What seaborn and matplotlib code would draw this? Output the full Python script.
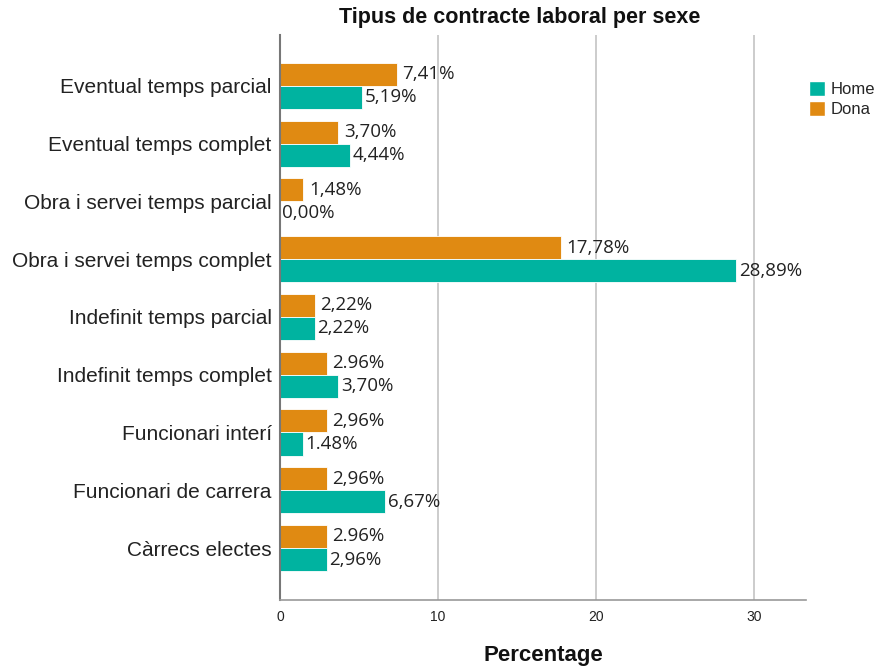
import matplotlib
matplotlib.use("Agg")
import matplotlib.pyplot as plt
import seaborn as sns
import pandas as pd
from matplotlib.patches import Patch

categories = ["Eventual temps parcial", "Eventual temps complet", "Obra i servei temps parcial",
              "Obra i servei temps complet", "Indefinit temps parcial", "Indefinit temps complet",
              "Funcionari interí", "Funcionari de carrera", "Càrrecs electes"]
home = [5.19, 4.44, 0.00, 28.89, 2.22, 3.70, 1.48, 6.67, 2.96]
dona = [7.41, 3.70, 1.48, 17.78, 2.22, 2.96, 2.96, 2.96, 2.96]
home_labels = ["5,19%", "4,44%", "0,00%", "28,89%", "2,22%", "3,70%", "1.48%", "6,67%", "2,96%"]
dona_labels = ["7,41%", "3,70%", "1,48%", "17,78%", "2,22%", "2.96%", "2,96%", "2,96%", "2.96%"]
xticks = [0, 10, 20, 30]

c_home = "#00B3A0"
c_dona = "#E08A12"

df = pd.DataFrame({
    "cat": categories * 2,
    "val": dona + home,
    "sexe": ["Dona"] * len(categories) + ["Home"] * len(categories),
})

sns.set_style("white")
plt.rcParams["font.family"] = ["Liberation Sans", "DejaVu Sans"]

fig = plt.figure(figsize=(8.79, 6.66), dpi=100)
ax = fig.add_axes([280/879, 1-600/666, (806-280)/879, (600-35)/666])

sns.barplot(data=df, y="cat", x="val", hue="sexe", hue_order=["Dona", "Home"],
            order=categories, palette={"Dona": c_dona, "Home": c_home},
            orient="h", width=0.8, ax=ax, legend=False, saturation=1,
            edgecolor="white", linewidth=0.6)

ax.set_xlim(0, 33.3)
ax.set_ylim(8.9, -0.88)
ax.set_xticks(xticks)
ax.set_xticklabels([str(t) for t in xticks], fontsize=10, color="#222222")
ax.tick_params(axis="x", length=0, pad=7)
ax.tick_params(axis="y", length=0, pad=6, labelsize=15, labelcolor="#222222")
ax.set_ylabel("")
ax.set_xlabel("")
for x in xticks[1:]:
    ax.axvline(x, color="#C4C4C4", linewidth=1.2, zorder=0)
for s in ["top", "right"]:
    ax.spines[s].set_visible(False)
ax.spines["left"].set_color("#777777")
ax.spines["left"].set_linewidth(1.5)
ax.spines["bottom"].set_color("#999999")
ax.spines["bottom"].set_linewidth(1.2)

for i in range(len(categories)):
    ax.text(dona[i] + 0.35, i - 0.2, dona_labels[i], va="center", ha="left",
            fontsize=13.5, family=["Open Sans", "DejaVu Sans"], color="#222222")
    ax.text(home[i] + 0.15, i + 0.2, home_labels[i], va="center", ha="left",
            fontsize=13.5, family=["Open Sans", "DejaVu Sans"], color="#222222")

handles = [Patch(facecolor=c_home, edgecolor="white", label="Home"),
           Patch(facecolor=c_dona, edgecolor="white", label="Dona")]
fig.legend(handles=handles, loc="upper left", bbox_to_anchor=(802/879, 1-74/666),
           frameon=False, fontsize=12, handlelength=1.0, handleheight=1.0,
           handletextpad=0.3, labelspacing=0.25, borderaxespad=0)

fig.text(520/879, 1-18/666, "Tipus de contracte laboral per sexe", ha="center", va="center",
         fontsize=15.5, fontweight="bold", color="#111111")
fig.text(543/879, 1-656/666, "Percentage", ha="center", va="center",
         fontsize=16, fontweight="bold", color="#111111")

fig.savefig("out.png", dpi=100, facecolor="white")
